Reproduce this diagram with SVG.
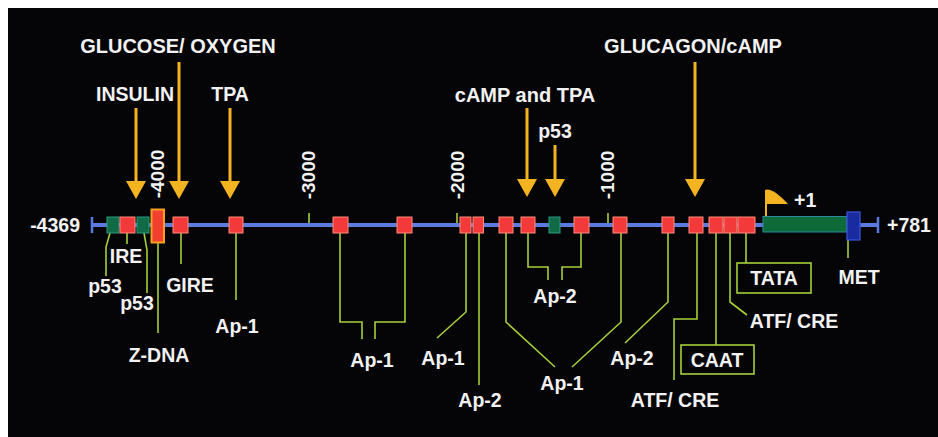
<svg xmlns="http://www.w3.org/2000/svg" width="938" height="437" viewBox="0 0 938 437">
<defs>
<style>
text{font-family:"Liberation Sans",Arial,sans-serif;font-weight:bold;fill:#f2f2f2;font-size:19.5px;text-anchor:middle}
.big{font-size:20px}
.pos{font-size:19px}
.lead{fill:none;stroke:#a6cf3a;stroke-width:1.6}
.arr{stroke:#f4b422;stroke-width:3;fill:none}
.head{fill:#f4b422}
.red{fill:#f23a3a;stroke:#ff8a7a;stroke-width:1}
.grn{fill:#0f6a45;stroke:#2a9a80;stroke-width:1}
.lbox{fill:none;stroke:#a6cf3a;stroke-width:1.6}
.tick{stroke:#a6cf3a;stroke-width:1.6}
</style>
<marker id="ah" viewBox="0 0 20 18" refX="10" refY="17" markerWidth="20" markerHeight="18" markerUnits="userSpaceOnUse" orient="auto-start-reverse">
<path d="M0,0 L20,0 L10,18 Z" class="head"/>
</marker>
</defs>
<rect x="0" y="0" width="938" height="437" fill="#ffffff"/>
<rect x="8" y="8" width="930" height="429" fill="#050508"/>

<g id="axis">
<line x1="92" y1="225" x2="878" y2="225" stroke="#5a7ae0" stroke-width="4"/>
<line x1="92" y1="217" x2="92" y2="233" stroke="#5a7ae0" stroke-width="2.5"/>
<line x1="878" y1="217" x2="878" y2="233" stroke="#5a7ae0" stroke-width="2.5"/>
<line class="tick" x1="309" y1="213" x2="309" y2="223"/>
<line class="tick" x1="457" y1="213" x2="457" y2="223"/>
<line class="tick" x1="608" y1="213" x2="608" y2="223"/>
<text x="80" y="232" style="text-anchor:end">-4369</text>
<text x="887" y="232" style="text-anchor:start">+781</text>
<text class="pos" transform="translate(164,174) rotate(-90)">-4000</text>
<text class="pos" transform="translate(315,175) rotate(-90)">-3000</text>
<text class="pos" transform="translate(464,175) rotate(-90)">-2000</text>
<text class="pos" transform="translate(614,175) rotate(-90)">-1000</text>
</g>

<g id="connectors">
<!-- signal arrows -->
<line class="arr" x1="136" y1="108" x2="136" y2="185"/>
<line class="arr" x1="179" y1="62" x2="179" y2="185"/>
<line class="arr" x1="230" y1="108" x2="230" y2="185"/>
<line class="arr" x1="527" y1="108" x2="527" y2="183"/>
<line class="arr" x1="555" y1="145" x2="555" y2="183"/>
<line class="arr" x1="695" y1="62" x2="695" y2="183"/>
<path class="head" d="M126,181 L146,181 L136,199 Z"/>
<path class="head" d="M169,181 L189,181 L179,199 Z"/>
<path class="head" d="M220,181 L240,181 L230,199 Z"/>
<path class="head" d="M517,179 L537,179 L527,197 Z"/>
<path class="head" d="M545,179 L565,179 L555,197 Z"/>
<path class="head" d="M685,179 L705,179 L695,197 Z"/>
<!-- leader lines -->
<path class="lead" d="M110,233 L106,247 V276"/>
<path class="lead" d="M127,233 V244"/>
<path class="lead" d="M144,233 L147,250 V293"/>
<path class="lead" d="M158,243 V333"/>
<path class="lead" d="M181,233 V264"/>
<path class="lead" d="M236,233 V300"/>
<path class="lead" d="M340,233 V322 H362 V339"/>
<path class="lead" d="M405,233 V322 H375 V339"/>
<path class="lead" d="M466,233 V312 L437,338"/>
<path class="lead" d="M479,233 V385"/>
<path class="lead" d="M506,233 V322 L555,367"/>
<path class="lead" d="M621,233 V322 L572,367"/>
<path class="lead" d="M528,233 V267 H548 V280"/>
<path class="lead" d="M581,233 V267 H562 V280"/>
<path class="lead" d="M668,233 V302 L625,343"/>
<path class="lead" d="M697,233 V319 H674 V380"/>
<path class="lead" d="M716,233 V345"/>
<path class="lead" d="M730,233 V302 L747,315"/>
<path class="lead" d="M746,233 V263"/>
<path class="lead" d="M848,240 V258"/>
</g>

<g id="signals">
<text class="big" x="178" y="53">GLUCOSE/ OXYGEN</text>
<text x="135" y="101">INSULIN</text>
<text x="230" y="101">TPA</text>
<text class="big" x="525" y="102">cAMP and TPA</text>
<text x="555" y="138">p53</text>
<text class="big" x="693" y="53">GLUCAGON/cAMP</text>
</g>

<g id="elem-p53-1"><rect class="grn" x="107" y="217" width="12" height="16"/><text x="105" y="293">p53</text></g>
<g id="elem-IRE"><rect class="red" x="120" y="217" width="15" height="16"/><text x="126" y="263">IRE</text></g>
<g id="elem-p53-2"><rect class="grn" x="137" y="217" width="12" height="16"/><text x="137" y="310">p53</text></g>
<g id="elem-ZDNA"><rect x="151.5" y="209.5" width="12.5" height="33" fill="#f24030" stroke="#f5a020" stroke-width="2"/><text x="159" y="362">Z-DNA</text></g>
<g id="elem-GIRE"><rect class="red" x="173" y="217" width="15" height="16"/><text x="190" y="292">GIRE</text></g>
<g id="elem-Ap1-a"><rect class="red" x="229" y="217" width="14" height="16"/><text x="237" y="333">Ap-1</text></g>
<g id="elem-Ap1-b">
<rect class="red" x="333" y="217" width="15" height="16"/>
<rect class="red" x="397" y="217" width="15" height="16"/>
<text x="372" y="367">Ap-1</text></g>
<g id="elem-Ap1-c"><rect class="red" x="460" y="217" width="11" height="16"/><text x="443" y="365">Ap-1</text></g>
<g id="elem-Ap2-a"><rect class="red" x="473" y="217" width="10.5" height="16"/><text x="480" y="407">Ap-2</text></g>
<g id="elem-Ap1-d">
<rect class="red" x="499" y="217" width="14" height="16"/>
<rect class="red" x="613" y="217" width="14" height="16"/>
<text x="562" y="390">Ap-1</text></g>
<g id="elem-Ap2-b">
<rect class="red" x="521" y="217" width="14" height="16"/>
<rect class="red" x="574" y="217" width="15" height="16"/>
<text x="555" y="303">Ap-2</text></g>
<g id="elem-p53-3"><rect class="grn" x="549" y="217" width="11" height="16"/></g>
<g id="elem-Ap2-c"><rect class="red" x="662" y="217" width="12" height="16"/><text x="632" y="365">Ap-2</text></g>
<g id="elem-ATF-1"><rect class="red" x="689" y="217" width="14" height="16"/><text x="675" y="407">ATF/ CRE</text></g>
<g id="elem-CAAT"><rect class="red" x="709" y="217" width="14" height="16"/><rect class="lbox" x="681" y="345" width="73" height="29"/><text x="717" y="367">CAAT</text></g>
<g id="elem-ATF-2"><rect class="red" x="724" y="217" width="13" height="16"/><text x="794" y="328">ATF/ CRE</text></g>
<g id="elem-TATA"><rect class="red" x="738" y="217" width="17" height="16"/><rect class="lbox" x="737" y="263" width="74" height="30"/><text x="774" y="285">TATA</text></g>
<g id="elem-start">
<path d="M766,216 V203" stroke="#f4b422" stroke-width="2" fill="none"/>
<path class="head" d="M765,204 V190 Q772,187 788,204 Z"/>
<text x="794" y="207" style="text-anchor:start">+1</text>
</g>
<g id="elem-exon"><rect x="763" y="216.5" width="84" height="15.5" fill="#0f6a3a" stroke="#2a8aa0" stroke-width="1"/></g>
<g id="elem-MET"><rect x="847" y="212" width="13" height="28" fill="#1a2aa0" stroke="#3a58d8" stroke-width="1.2"/><text x="859" y="284">MET</text></g>
</svg>
